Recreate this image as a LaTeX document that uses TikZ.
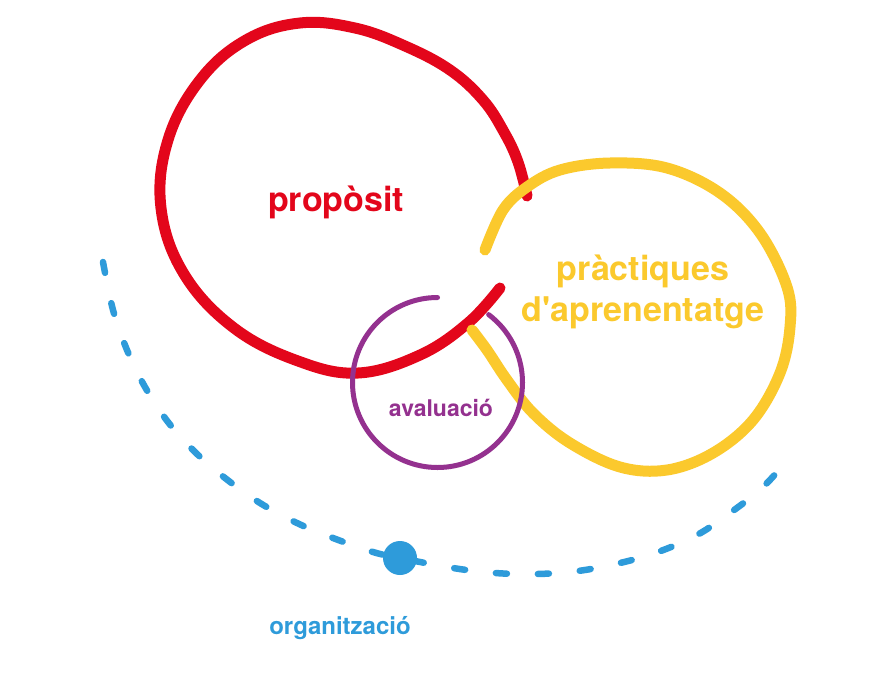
\documentclass[tikz,border=0pt]{standalone}
\usepackage{fontspec}
\setmainfont{TeX Gyre Heros}[Ligatures=TeXOff]
\definecolor{cred}{HTML}{E3061B}
\definecolor{cyel}{HTML}{FBC92D}
\definecolor{cpur}{HTML}{94318F}
\definecolor{cblu}{HTML}{2E9BDA}
\tikzset{
  loopline/.style={line width=11pt, line cap=round},
  lbl/.style={font=\bfseries, inner sep=0pt, anchor=center},
}
\begin{document}
\begin{tikzpicture}[x=1pt,y=-1pt]
\useasboundingbox[fill=white] (0,0) rectangle (888,696);
% blue dashed arc
\draw[cblu, line width=6.5pt, line cap=round, dash pattern=on 11pt off 31pt, dash phase=0pt]
  plot[smooth, tension=0.6] coordinates {(103,262) (113,310) (127,350) (145,387) (168,422) (195,452) (225,478) (260,503) (297,523) (333,538) (373,552) (400,558) (453,568) (495,573) (537,574) (578,571) (620,563) (658,552) (697,535) (730,513) (763,487) (790,457)};
\node[circle, fill=cblu, minimum size=34pt, inner sep=0pt] (dot) at (400,558) {};
% red loop
\draw[cred, loopline]
  plot[smooth, tension=0.65] coordinates {(500,288) (468,323) (420,355) (358,373) (298,361) (234,328) (184,274) (161,208) (168,140) (200,80) (246,40) (300,23) (355,28) (405,46) (450,70) (483,100) (504,132) (518,162) (527,196)};
% yellow loop
\draw[cyel, loopline]
  plot[smooth, tension=0.6] coordinates {(485,250) (503,210) (527,187) (560,170) (610,163) (667,168) (720,193) (760,233) (787,287) (790,327) (780,373) (753,420) (713,453) (667,470) (620,467) (570,443) (533,413) (507,380) (487,350) (472,330)};
% purple circle (y axis points down: top is -90)
\draw[cpur, line width=5pt, line cap=round] (437.5,382.5) ++(-90:85) arc[start angle=-90, end angle=-413, radius=85];
% labels
\node[lbl, text=cred, font=\fontsize{34}{36}\selectfont\bfseries] (prop) at (336,202) {propòsit};
\node[lbl, text=cyel, font=\fontsize{34}{36}\selectfont\bfseries] (prac1) at (643,271) {pràctiques};
\node[lbl, text=cyel, font=\fontsize{34}{36}\selectfont\bfseries] (prac2) at (643,313) {d'aprenentatge};
\node[lbl, text=cpur, font=\fontsize{23}{25}\selectfont\bfseries] (aval) at (441,408) {avaluació};
\node[lbl, text=cblu, font=\fontsize{24}{26}\selectfont\bfseries] (org) at (340,628) {organització};
\end{tikzpicture}
\end{document}
